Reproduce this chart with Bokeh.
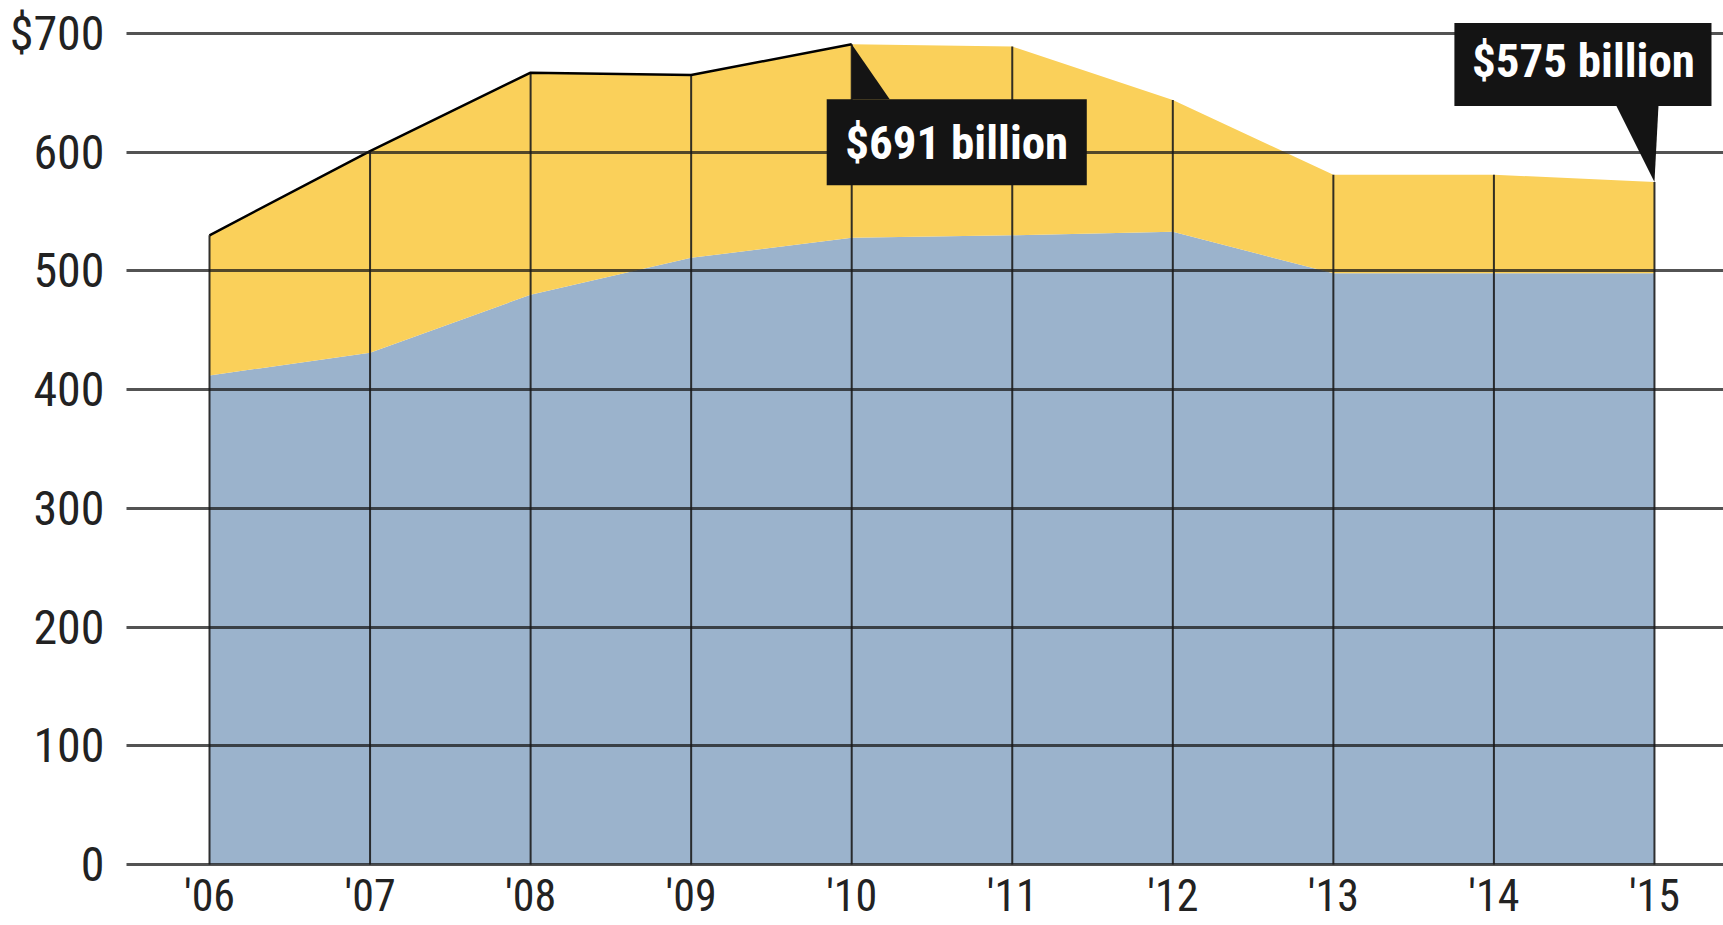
from bokeh.plotting import figure
from bokeh.models import ColumnDataSource, FixedTicker
from bokeh.core.properties import value
from bokeh.embed import file_html
from bokeh.resources import INLINE

years = [2006, 2007, 2008, 2009, 2010, 2011, 2012, 2013, 2014, 2015]
year_labels = ["'06", "'07", "'08", "'09", "'10", "'11", "'12", "'13", "'14", "'15"]
base_spending = [412, 431, 480, 511, 528, 530, 533, 498, 498, 498]
total_spending = [530, 601, 667, 665, 691, 689, 644, 581, 581, 575]
y_ticks = [0, 100, 200, 300, 400, 500, 600, 700]
y_tick_labels = ["0", "100", "200", "300", "400", "500", "600", "$700"]
callout_texts = ["$691 billion", "$575 billion"]

FONT = "'Roboto Condensed', 'Liberation Sans Narrow', 'Arial Narrow', 'Liberation Sans', sans-serif"
YELLOW = "#FAD05A"
BLUE = "#9BB3CC"

PX_X = 160.5   # pixels per year
PX_Y = 1.1871  # pixels per unit

p = figure(width=1723, height=925, output_backend="svg", toolbar_location=None,
           x_range=(2005.483, 2015.43), y_range=(-51.4, 727.8),
           min_border_left=126, min_border_right=0, min_border_top=0, min_border_bottom=0)
p.outline_line_color = None
p.background_fill_color = "white"

src = ColumnDataSource(dict(x=years, base=base_spending, total=total_spending,
                            zero=[0] * len(years)))

p.varea(x="x", y1="zero", y2="base", source=src, fill_color=BLUE)
p.varea(x="x", y1="base", y2="total", source=src, fill_color=YELLOW)

# vertical year lines within the area
p.segment(x0="x", y0="zero", x1="x", y1="total", source=src,
          line_color="#1c1c1c", line_width=2, line_alpha=0.9)

# black top edge on the early part
p.line(x=years[:5], y=total_spending[:5], line_color="black", line_width=2.5)

# axes
yax = p.yaxis[0]
yax.ticker = FixedTicker(ticks=y_ticks)
yax.major_label_overrides = {t: l for t, l in zip(y_ticks, y_tick_labels)}
yax.axis_line_color = None
yax.major_tick_line_color = None
yax.minor_tick_line_color = None
yax.major_label_text_font = FONT
yax.major_label_text_font_size = "48px"
yax.major_label_text_color = "#222222"
yax.major_label_standoff = 16

xax = p.xaxis[0]
xax.ticker = FixedTicker(ticks=years)
xax.major_label_overrides = {y: l for y, l in zip(years, year_labels)}
xax.fixed_location = 0
xax.axis_line_color = None
xax.major_tick_line_color = None
xax.minor_tick_line_color = None
xax.major_label_text_font = FONT
xax.major_label_text_font_size = "44px"
xax.major_label_text_color = "#222222"
xax.major_label_standoff = 0

p.xgrid.grid_line_color = None
p.ygrid.ticker = FixedTicker(ticks=y_ticks)
p.ygrid.grid_line_color = "#1a1a1a"
p.ygrid.grid_line_alpha = 0.75
p.ygrid.grid_line_width = 3
p.ygrid.level = "guide"

def callout(ax, ay, left, right, top, bottom, tri, text, tx, ty):
    # box offsets in screen pixels relative to the anchor point (y down positive)
    x0 = ax + left / PX_X
    x1 = ax + right / PX_X
    y0 = ay - top / PX_Y
    y1 = ay - bottom / PX_Y
    p.quad(left=x0, right=x1, top=y0, bottom=y1, fill_color="#141414", line_color=None, level="annotation")
    (bx0, by0), (bx1, by1) = tri
    p.patch(x=[ax, ax + bx0 / PX_X, ax + bx1 / PX_X],
            y=[ay, ay - by0 / PX_Y, ay - by1 / PX_Y],
            fill_color="#141414", line_color=None, level="annotation")
    p.text(x=[ax + tx / PX_X], y=[ay - ty / PX_Y], text=[text],
           text_font=value(FONT), text_font_style="bold", text_font_size="47px",
           text_color="white", text_align="center", text_baseline="middle", level="overlay")

callout(years[4], total_spending[4], -25, 235, 55, 141,
        ((0, 55), (38, 55)), callout_texts[0], 105, 98)
callout(years[9], total_spending[9], -200, 57, -159, -76,
        ((-38, -76), (4, -76)), callout_texts[1], -71, -121)

open("out.html", "w").write(file_html(p, INLINE))
